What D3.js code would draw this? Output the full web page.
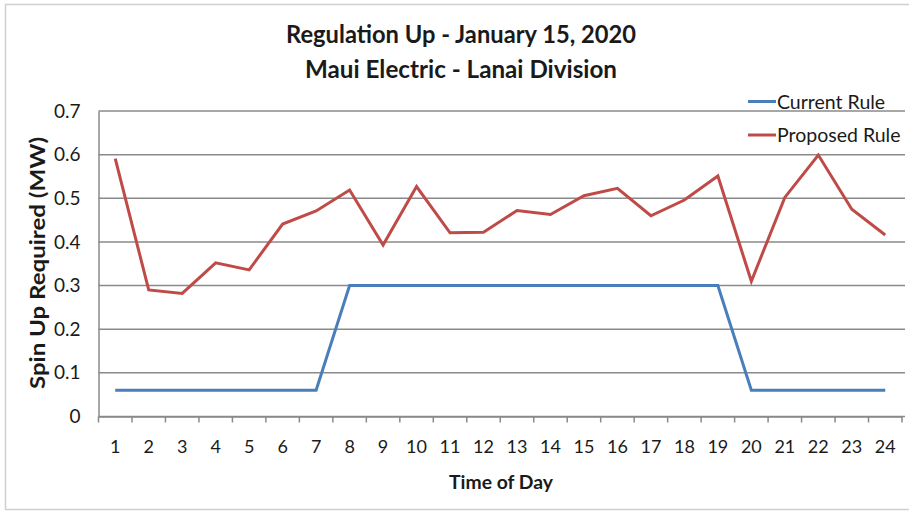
<!DOCTYPE html>
<html><head><meta charset="utf-8">
<script src="https://cdn.jsdelivr.net/npm/d3@7"></script>
<style>
html,body{margin:0;padding:0;background:#fff;}
text{font-family:Lato,"Open Sans",sans-serif;fill:#1a1a1a;}
</style></head>
<body><svg id="c" width="909" height="512"></svg>
<script>
const hours = d3.range(1, 25).map(String);
const currentRule = [0.06,0.06,0.06,0.06,0.06,0.06,0.06,0.30,0.30,0.30,0.30,0.30,0.30,0.30,0.30,0.30,0.30,0.30,0.30,0.06,0.06,0.06,0.06,0.06];
const proposedRule = [0.591,0.290,0.282,0.352,0.336,0.441,0.471,0.519,0.393,0.527,0.421,0.422,0.472,0.463,0.506,0.523,0.460,0.496,0.551,0.310,0.502,0.599,0.475,0.416];
const yTicks = [0,0.1,0.2,0.3,0.4,0.5,0.6,0.7];
const seriesNames = ["Current Rule","Proposed Rule"];
const colors = ["#4a7ebb","#be4b48"];
const titleLines = ["Regulation Up - January 15, 2020","Maui Electric - Lanai Division"];

const svg = d3.select("#c");
const L = 98.5, R = 902, T = 111, B = 416.5;

svg.append("rect").attr("x",5.5).attr("y",4.5).attr("width",910).attr("height",505)
  .attr("fill","#fff").attr("stroke","#d0d0d0").attr("stroke-width",1.5);

const x = d3.scaleBand().domain(hours).range([L,R]).padding(0);
const y = d3.scaleLinear().domain([0,0.7]).range([B,T]);

// gridlines
svg.append("g").selectAll("line").data(yTicks).join("line")
  .attr("x1",L).attr("x2",R+3).attr("y1",d=>y(d)).attr("y2",d=>y(d))
  .attr("stroke","#8a8a8a").attr("stroke-width",1.5);

// y axis
const ya = svg.append("g").attr("transform",`translate(${L},0)`)
  .call(d3.axisLeft(y).tickValues(yTicks).tickSize(0).tickPadding(18).tickFormat(d=>d===0?"0":d3.format(".1f")(d)));
ya.select(".domain").attr("stroke","#8a8a8a").attr("stroke-width",1.5);
ya.selectAll("text").style("font-size","19px").style("font-family","Lato,sans-serif").attr("fill","#1a1a1a");

// x axis
const xa = svg.append("g").attr("transform",`translate(0,${B})`)
  .call(d3.axisBottom(x).tickSize(0).tickPadding(24));
xa.select(".domain").attr("stroke","#8a8a8a").attr("stroke-width",1.5);
xa.selectAll("text").style("font-size","18px").style("font-family","Lato,sans-serif").attr("fill","#1a1a1a");
// boundary ticks
const bounds = hours.map(h=>x(h)).concat([R]);
svg.append("g").selectAll("line").data(bounds).join("line")
  .attr("x1",d=>d).attr("x2",d=>d).attr("y1",B).attr("y2",B+6)
  .attr("stroke","#8a8a8a").attr("stroke-width",1.5);

const line = d3.line().x((d,i)=>x(hours[i])+x.bandwidth()/2).y(d=>y(d));
[currentRule, proposedRule].forEach((s,k)=>{
  svg.append("path").datum(s).attr("d",line).attr("fill","none")
    .attr("stroke",colors[k]).attr("stroke-width",3).attr("stroke-linejoin","miter");
});

// titles
svg.append("text").attr("x",461).attr("y",43).attr("text-anchor","middle")
  .style("font-size","24px").style("font-weight","bold").attr("textLength",350).attr("lengthAdjust","spacingAndGlyphs").text(titleLines[0]);
svg.append("text").attr("x",461).attr("y",78).attr("text-anchor","middle")
  .style("font-size","24px").style("font-weight","bold").attr("textLength",312).attr("lengthAdjust","spacingAndGlyphs").text(titleLines[1]);

// y title
svg.append("text").attr("transform","translate(45,263) rotate(-90)").attr("text-anchor","middle")
  .style("font-size","20px").style("font-weight","bold").attr("textLength",252).attr("lengthAdjust","spacingAndGlyphs").text("Spin Up Required (MW)");
// x title
svg.append("text").attr("x",501).attr("y",489).attr("text-anchor","middle")
  .style("font-size","19px").style("font-weight","bold").attr("textLength",104).attr("lengthAdjust","spacingAndGlyphs").text("Time of Day");

// legend
const lg = svg.append("g");
seriesNames.forEach((n,k)=>{
  const yy = 101.5 + k*33.5;
  lg.append("line").attr("x1",748).attr("x2",776).attr("y1",yy).attr("y2",yy).attr("stroke",colors[k]).attr("stroke-width",3);
  lg.append("text").attr("x",777).attr("y",yy+7).style("font-size","19.5px").text(n);
});
</script></body></html>
